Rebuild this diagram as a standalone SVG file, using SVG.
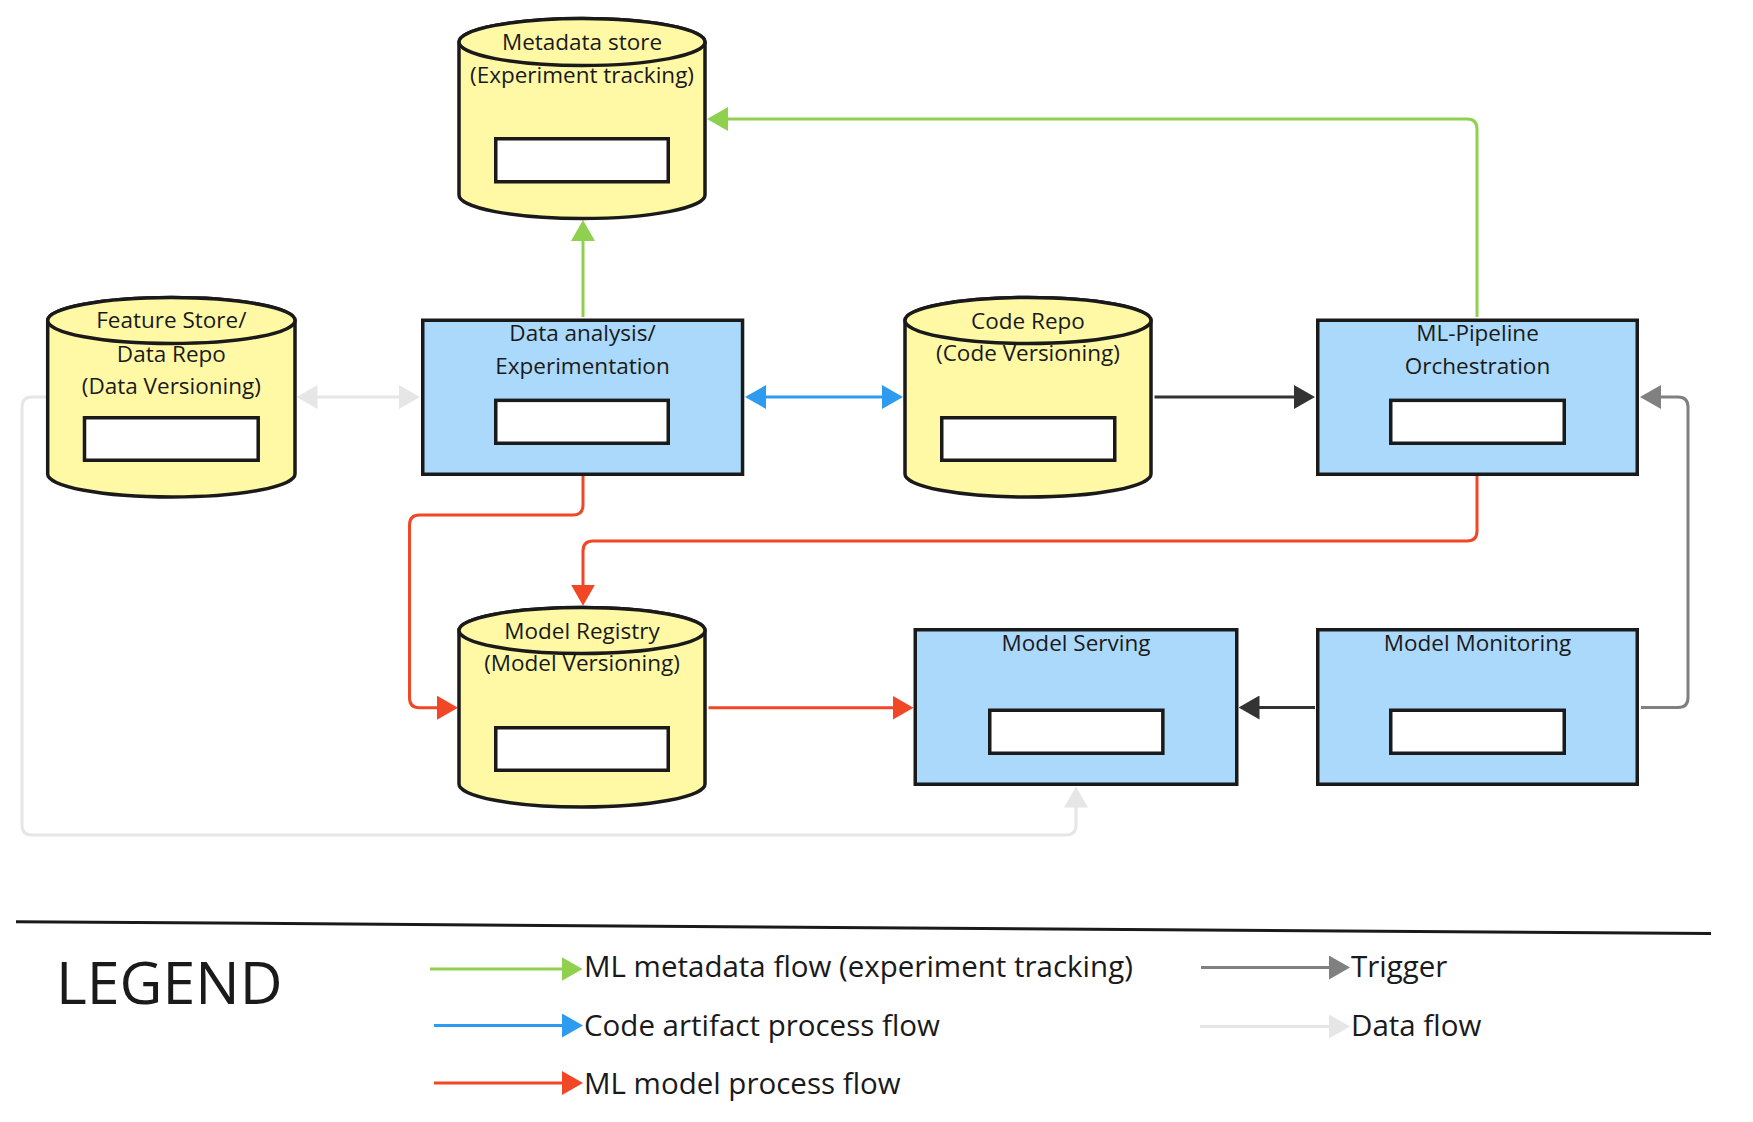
<svg xmlns="http://www.w3.org/2000/svg" width="1753" height="1122" viewBox="0 0 1753 1122">
<style>
  .cyl{fill:#fff9a6;stroke:#1a1a1a;stroke-width:3.5}
  .box{fill:#aad9fc;stroke:#1a1a1a;stroke-width:3.5}
  .inner{fill:#ffffff;stroke:#1a1a1a;stroke-width:3.5}
  .lbl{font-family:"Open Sans","Noto Sans",sans-serif;font-size:22.5px;fill:#1a1a1a;text-anchor:middle}
  .leg{font-family:"Open Sans","Noto Sans",sans-serif;font-size:29.5px;fill:#1a1a1a}
  .c{fill:none;stroke-width:3}
  .green{stroke:#8fd14f}
  .blue{stroke:#2d9bf0}
  .red{stroke:#f24726}
  .dark{stroke:#333333}
  .gray{stroke:#808080}
  .light{stroke:#e6e6e6}
</style>
<defs>
  <marker id="aG" viewBox="0 0 21 24" refX="16" refY="12" markerWidth="21" markerHeight="24" markerUnits="userSpaceOnUse" orient="auto-start-reverse"><path d="M0,0 L21,12 L0,24 z" fill="#8fd14f"/></marker>
  <marker id="aB" viewBox="0 0 21 24" refX="16" refY="12" markerWidth="21" markerHeight="24" markerUnits="userSpaceOnUse" orient="auto-start-reverse"><path d="M0,0 L21,12 L0,24 z" fill="#2d9bf0"/></marker>
  <marker id="aR" viewBox="0 0 21 24" refX="16" refY="12" markerWidth="21" markerHeight="24" markerUnits="userSpaceOnUse" orient="auto-start-reverse"><path d="M0,0 L21,12 L0,24 z" fill="#f24726"/></marker>
  <marker id="aD" viewBox="0 0 21 24" refX="16" refY="12" markerWidth="21" markerHeight="24" markerUnits="userSpaceOnUse" orient="auto-start-reverse"><path d="M0,0 L21,12 L0,24 z" fill="#333333"/></marker>
  <marker id="aY" viewBox="0 0 21 24" refX="16" refY="12" markerWidth="21" markerHeight="24" markerUnits="userSpaceOnUse" orient="auto-start-reverse"><path d="M0,0 L21,12 L0,24 z" fill="#808080"/></marker>
  <marker id="aL" viewBox="0 0 21 24" refX="16" refY="12" markerWidth="21" markerHeight="24" markerUnits="userSpaceOnUse" orient="auto-start-reverse"><path d="M0,0 L21,12 L0,24 z" fill="#e6e6e6"/></marker>
</defs>
<rect width="1753" height="1122" fill="#ffffff"/>

<g id="connectors">
  <path class="c green" d="M583,317 V225" marker-end="url(#aG)"/>
  <path class="c green" d="M1477,317 V129 Q1477,119 1467,119 H712" marker-end="url(#aG)"/>
  <path class="c blue" d="M750,397 H898" marker-start="url(#aB)" marker-end="url(#aB)"/>
  <path class="c light" d="M301.5,397 H415" marker-start="url(#aL)" marker-end="url(#aL)"/>
  <path class="c dark" d="M1154.5,397 H1310" marker-end="url(#aD)"/>
  <path class="c dark" d="M1315,707.5 H1243.5" marker-end="url(#aD)"/>
  <path class="c red" d="M583,476 V505 Q583,515 573,515 H419.5 Q409.5,515 409.5,525 V697.7 Q409.5,707.7 419.5,707.7 H453" marker-end="url(#aR)"/>
  <path class="c red" d="M1477,476 V531 Q1477,541 1467,541 H593 Q583,541 583,551 V600.7" marker-end="url(#aR)"/>
  <path class="c red" d="M708.5,707.7 H908.5" marker-end="url(#aR)"/>
  <path class="c gray" d="M1641,707.5 H1678 Q1688,707.5 1688,697.5 V407 Q1688,397 1678,397 H1645" marker-end="url(#aY)"/>
  <path class="c light" d="M46,397 H32 Q22,397 22,407 V825 Q22,835 32,835 H1066 Q1076,835 1076,825 V791.5" marker-end="url(#aL)"/>
</g>

<g id="metadata-store">
  <path class="cyl" d="M459,42 V195 A123,23.5 0 0 0 705,195 V42 A123,23.5 0 0 0 459,42 z"/>
  <ellipse class="cyl" cx="582" cy="42" rx="123" ry="23.5"/>
  <rect class="inner" x="495.75" y="138.75" width="172.5" height="43"/>
  <text class="lbl" x="582" y="50">Metadata store</text>
  <text class="lbl" x="582" y="82.5">(Experiment tracking)</text>
</g>

<g id="feature-store">
  <path class="cyl" d="M47.7,320.5 V474 A123.65,23 0 0 0 295,474 V320.5 A123.65,23 0 0 0 47.7,320.5 z"/>
  <ellipse class="cyl" cx="171.35" cy="320.5" rx="123.65" ry="23"/>
  <rect class="inner" x="84.5" y="417.75" width="173.7" height="42.5"/>
  <text class="lbl" x="171.35" y="328.3">Feature Store/</text>
  <text class="lbl" x="171.35" y="361.5">Data Repo</text>
  <text class="lbl" x="171.35" y="394.3">(Data Versioning)</text>
</g>

<g id="data-analysis">
  <rect class="box" x="422.75" y="320.25" width="319.8" height="154"/>
  <rect class="inner" x="495.75" y="400.35" width="172.5" height="42.9"/>
  <text class="lbl" x="582.5" y="341">Data analysis/</text>
  <text class="lbl" x="582.5" y="374">Experimentation</text>
</g>

<g id="code-repo">
  <path class="cyl" d="M905,320.5 V474 A123,23 0 0 0 1151,474 V320.5 A123,23 0 0 0 905,320.5 z"/>
  <ellipse class="cyl" cx="1028" cy="320.5" rx="123" ry="23"/>
  <rect class="inner" x="941.75" y="417.75" width="173" height="42.5"/>
  <text class="lbl" x="1028" y="328.5">Code Repo</text>
  <text class="lbl" x="1028" y="361.4">(Code Versioning)</text>
</g>

<g id="ml-pipeline">
  <rect class="box" x="1317.75" y="320.25" width="319.5" height="154"/>
  <rect class="inner" x="1390.75" y="400.35" width="173.5" height="42.9"/>
  <text class="lbl" x="1477.5" y="341">ML-Pipeline</text>
  <text class="lbl" x="1477.5" y="374">Orchestration</text>
</g>

<g id="model-registry">
  <path class="cyl" d="M459,630.5 V784 A123,23 0 0 0 705,784 V630.5 A123,23 0 0 0 459,630.5 z"/>
  <ellipse class="cyl" cx="582" cy="630.5" rx="123" ry="23"/>
  <rect class="inner" x="495.75" y="727.75" width="172.5" height="42.5"/>
  <text class="lbl" x="582" y="639">Model Registry</text>
  <text class="lbl" x="582" y="671.2">(Model Versioning)</text>
</g>

<g id="model-serving">
  <rect class="box" x="915.25" y="629.75" width="321.5" height="154.5"/>
  <rect class="inner" x="989.75" y="710.25" width="173.1" height="43"/>
  <text class="lbl" x="1076" y="651">Model Serving</text>
</g>

<g id="model-monitoring">
  <rect class="box" x="1317.75" y="629.75" width="319.5" height="154.5"/>
  <rect class="inner" x="1390.75" y="710.25" width="173.5" height="43"/>
  <text class="lbl" x="1477.5" y="651">Model Monitoring</text>
</g>

<g id="legend">
  <path d="M16,921.7 L1711,933.5" stroke="#1a1a1a" stroke-width="3" fill="none"/>
  <text x="56" y="1004.3" font-family="Open Sans, Noto Sans, sans-serif" font-size="59" fill="#1a1a1a">LEGEND</text>
  <path class="c green" d="M430,969 H577.6" marker-end="url(#aG)"/>
  <text class="leg" x="584" y="977.3">ML metadata flow (experiment tracking)</text>
  <path class="c blue" d="M434,1025.5 H578" marker-end="url(#aB)"/>
  <text class="leg" x="584" y="1035.5">Code artifact process flow</text>
  <path class="c red" d="M434,1083 H578" marker-end="url(#aR)"/>
  <text class="leg" x="584" y="1093.5">ML model process flow</text>
  <path class="c gray" d="M1201,967.5 H1345" marker-end="url(#aY)"/>
  <text class="leg" x="1351" y="977.3">Trigger</text>
  <path class="c light" d="M1200,1026.5 H1345" marker-end="url(#aL)"/>
  <text class="leg" x="1351" y="1035.5">Data flow</text>
</g>
</svg>
